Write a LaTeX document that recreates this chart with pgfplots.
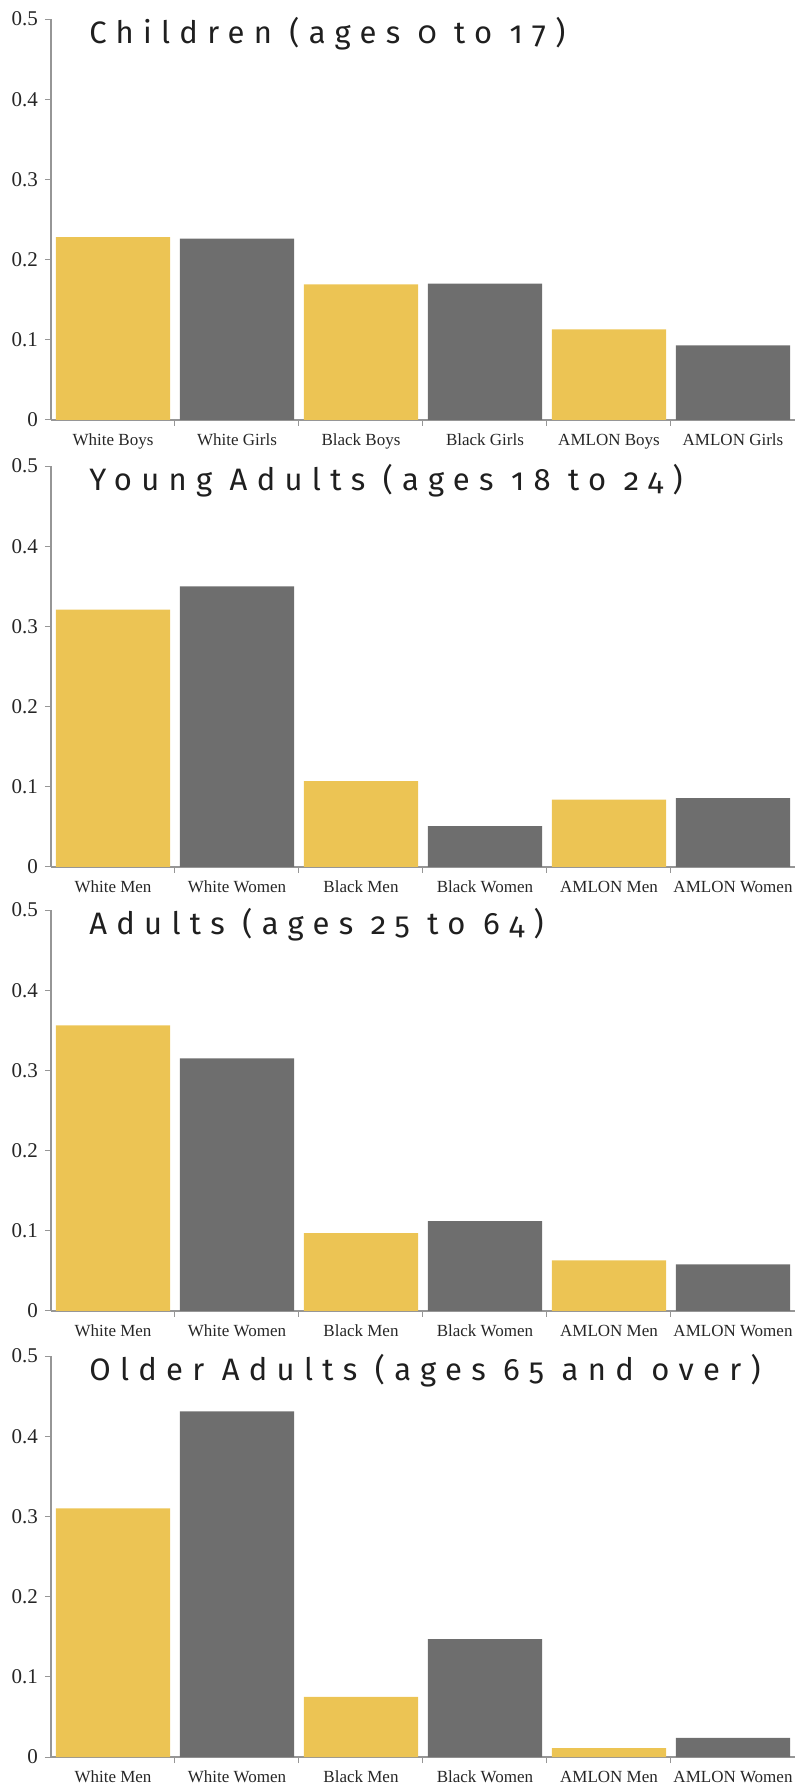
\documentclass[border=0pt]{standalone}
\usepackage{pgfplots}
\pgfplotsset{compat=1.18}
\usepackage{fontspec}
\setmainfont{Liberation Serif}
\newfontfamily\titlefont[Numbers=OldStyle,LetterSpace=30]{Fira Sans}
\definecolor{yel}{RGB}{236,196,84}
\definecolor{gry}{RGB}{110,110,110}
\definecolor{axgray}{RGB}{150,150,150}
\pgfplotsset{panel/.style={
  scale only axis, width=372pt, height=200.5pt,
  xmin=-0.5, xmax=5.5, ymin=0, ymax=0.5,
  axis x line*=bottom, axis y line*=left,
  axis line style={axgray, line width=0.6pt},
  ytick={0,0.1,0.2,0.3,0.4,0.5},
  yticklabel style={font=\fontsize{10.5}{12}\selectfont, text=black!85},
  /pgf/number format/assume math mode=true,
  tick align=outside, major tick length=3pt,
  tick style={axgray, line width=0.5pt},
  xtick={0.5,1.5,2.5,3.5,4.5}, xticklabels={},
  extra x ticks={0,1,2,3,4,5},
  extra x tick style={major tick length=0pt},
  xticklabel style={font=\fontsize{8.5}{10}\selectfont, text=black!85, yshift=-3.5pt},
  clip=false,
}}
\begin{document}
\begin{tikzpicture}
% Panel 1
\begin{axis}[panel, at={(25.5pt,685pt)}, anchor=south west,
  extra x tick labels={White Boys, White Girls, Black Boys, Black Girls, AMLON Boys, AMLON Girls}]
\addplot[ybar, bar shift=0pt, bar width=0.92, fill=yel, draw=none] coordinates {(0,0.228) (2,0.169) (4,0.113)};
\addplot[ybar, bar shift=0pt, bar width=0.92, fill=gry, draw=none] coordinates {(1,0.226) (3,0.170) (5,0.093)};
\node[anchor=base west, inner sep=0, text=black!88, font=\titlefont\fontsize{15.5}{18}\selectfont] at (rel axis cs:0.051,0.94) {Children (ages 0 to 17)};
\end{axis}
% Panel 2
\begin{axis}[panel, at={(25.5pt,461.5pt)}, anchor=south west,
  extra x tick labels={White Men, White Women, Black Men, Black Women, AMLON Men, AMLON Women}]
\addplot[ybar, bar shift=0pt, bar width=0.92, fill=yel, draw=none] coordinates {(0,0.321) (2,0.107) (4,0.084)};
\addplot[ybar, bar shift=0pt, bar width=0.92, fill=gry, draw=none] coordinates {(1,0.350) (3,0.051) (5,0.086)};
\node[anchor=base west, inner sep=0, text=black!88, font=\titlefont\fontsize{15.5}{18}\selectfont] at (rel axis cs:0.051,0.94) {Young Adults (ages 18 to 24)};
\end{axis}
% Panel 3
\begin{axis}[panel, at={(25.5pt,239.5pt)}, anchor=south west,
  extra x tick labels={White Men, White Women, Black Men, Black Women, AMLON Men, AMLON Women}]
\addplot[ybar, bar shift=0pt, bar width=0.92, fill=yel, draw=none] coordinates {(0,0.356) (2,0.097) (4,0.063)};
\addplot[ybar, bar shift=0pt, bar width=0.92, fill=gry, draw=none] coordinates {(1,0.315) (3,0.112) (5,0.058)};
\node[anchor=base west, inner sep=0, text=black!88, font=\titlefont\fontsize{15.5}{18}\selectfont] at (rel axis cs:0.051,0.94) {Adults (ages 25 to 64)};
\end{axis}
% Panel 4
\begin{axis}[panel, at={(25.5pt,16.5pt)}, anchor=south west,
  extra x tick labels={White Men, White Women, Black Men, Black Women, AMLON Men, AMLON Women}]
\addplot[ybar, bar shift=0pt, bar width=0.92, fill=yel, draw=none] coordinates {(0,0.310) (2,0.075) (4,0.011)};
\addplot[ybar, bar shift=0pt, bar width=0.92, fill=gry, draw=none] coordinates {(1,0.431) (3,0.147) (5,0.024)};
\node[anchor=base west, inner sep=0, text=black!88, font=\titlefont\fontsize{15.5}{18}\selectfont] at (rel axis cs:0.051,0.94) {Older Adults (ages 65 and over)};
\end{axis}
\pgfresetboundingbox
\path[use as bounding box] (0,0) rectangle (400.5pt,895pt);
\end{tikzpicture}
\end{document}
